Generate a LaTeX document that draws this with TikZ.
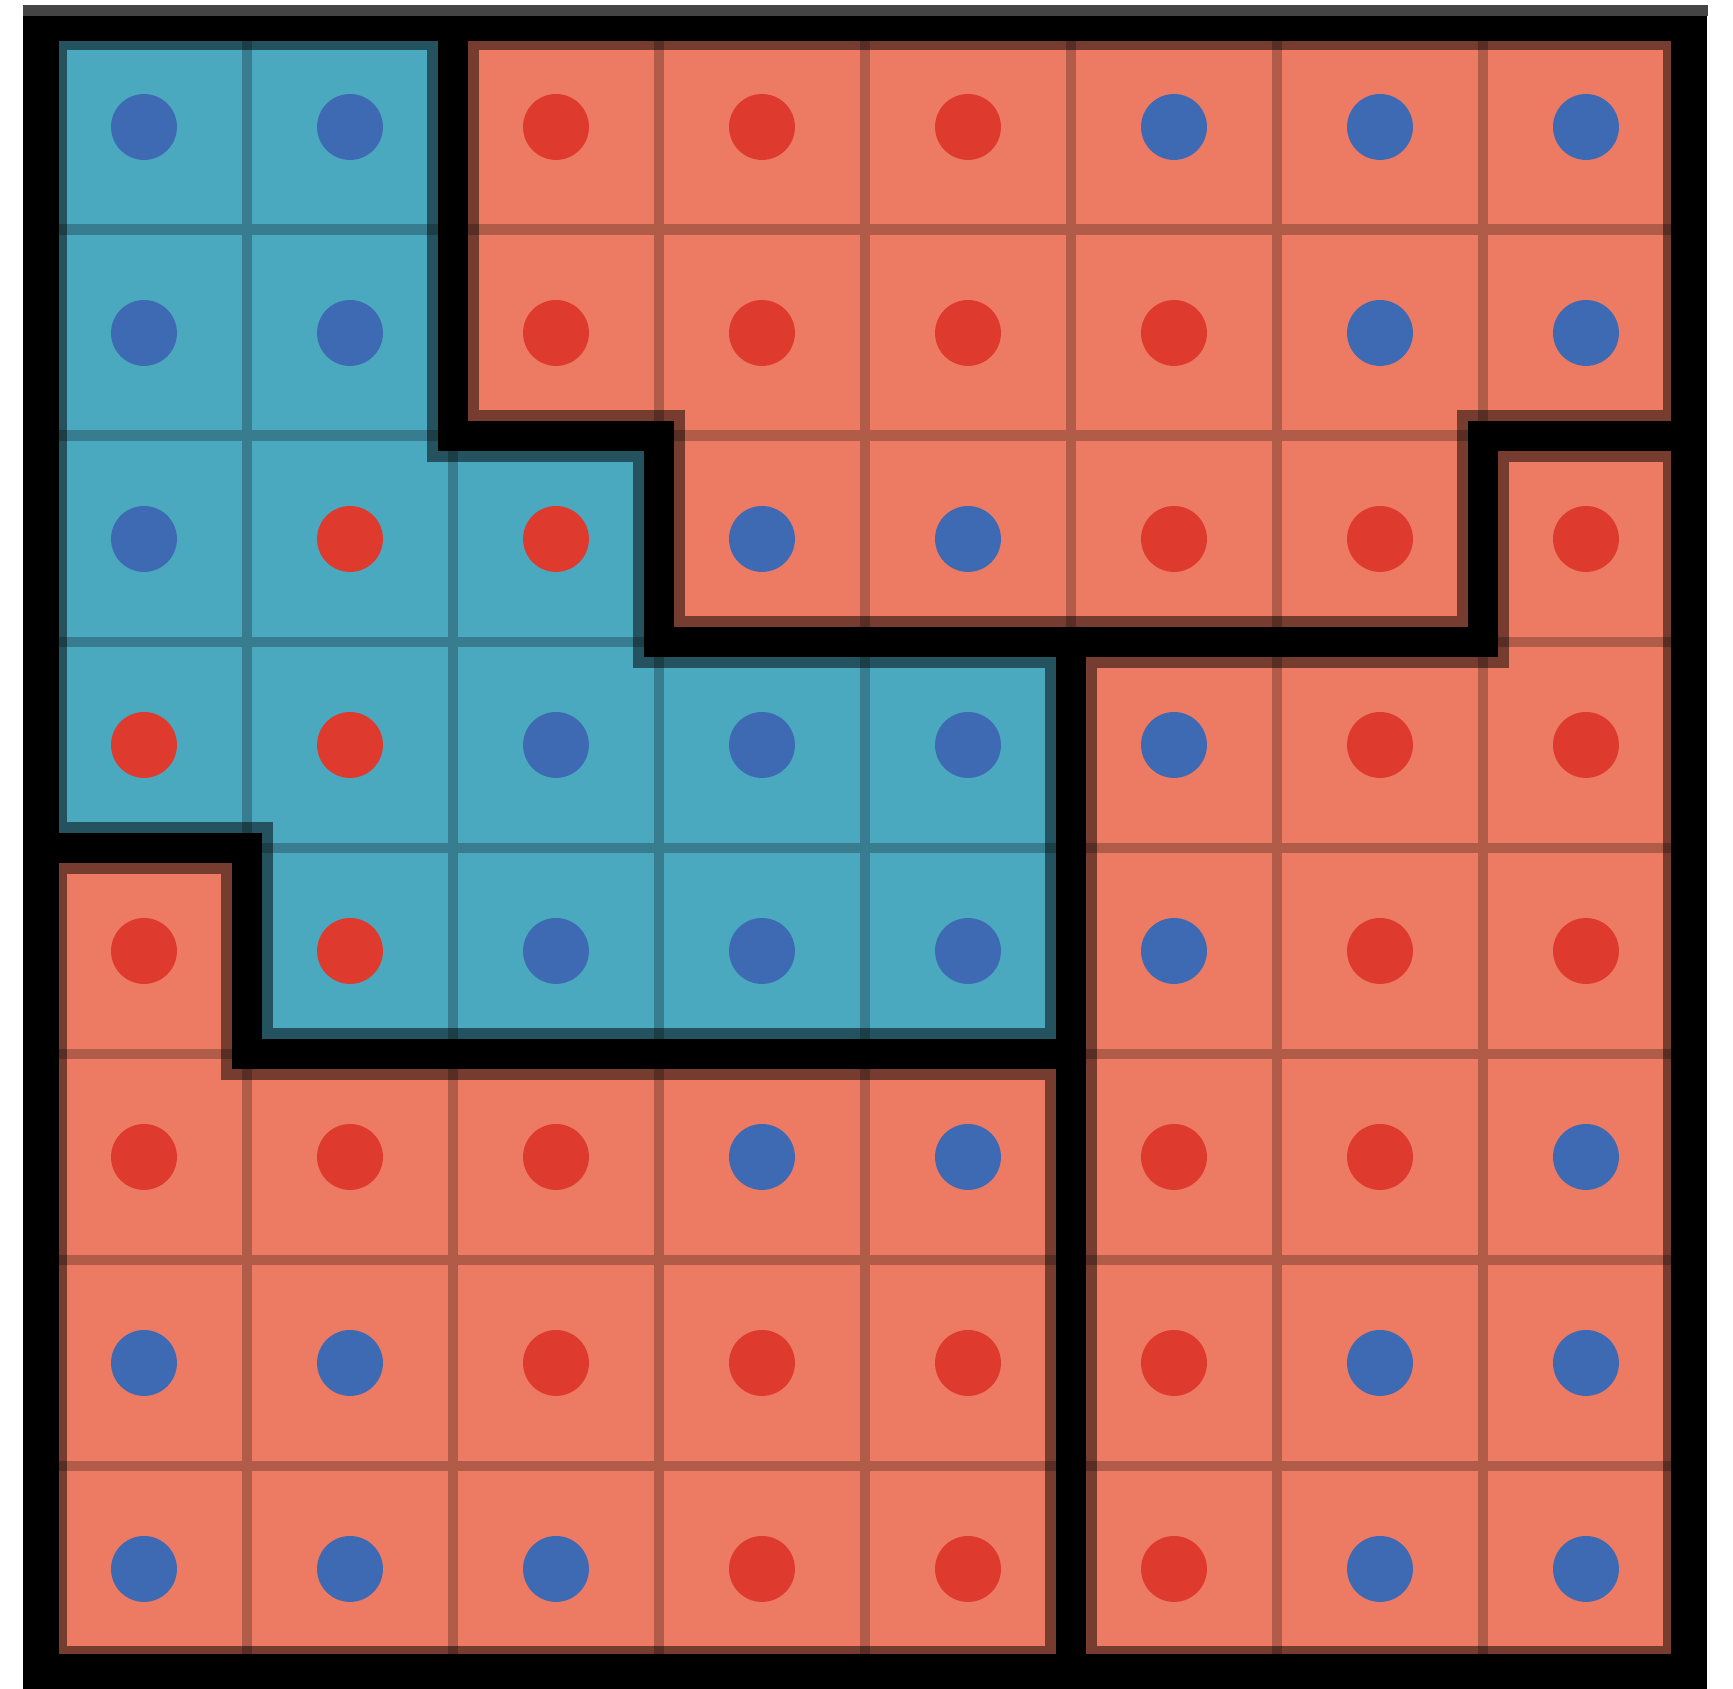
\documentclass[tikz,border=0pt]{standalone}
\definecolor{distteal}{HTML}{4AA8BF}
\definecolor{distsalmon}{HTML}{ED7A62}
\definecolor{dotR}{HTML}{DE3A2E}
\definecolor{dotB}{HTML}{3E6AB3}
\definecolor{topedge}{HTML}{444444}
\begin{document}
\begin{tikzpicture}[x=1cm,y=1cm,
    cellline/.style={black, opacity=0.25, line width=0.053cm},
    edgeshade/.style={black, opacity=0.5, line width=0.25cm},
    border/.style={black, line width=0.145cm}]
  \useasboundingbox (-0.199,-0.0825) rectangle (8.2136,8.1165);

  % districts
  \fill[distsalmon] (0,0) rectangle (8,8);
  \fill[distteal] (0,8) -- (2,8) -- (2,6) -- (3,6) -- (3,5) -- (5,5) -- (5,3)
    -- (1,3) -- (1,4) -- (0,4) -- cycle;
  \draw[cellline] (0,0) grid (8,8);

  % voters, row by row from the top
  \foreach \row [count=\r] in {{B,B,R,R,R,B,B,B},{B,B,R,R,R,R,B,B},
      {B,R,R,B,B,R,R,R},{R,R,B,B,B,B,R,R},{R,R,B,B,B,B,R,R},
      {R,R,R,B,B,R,R,B},{B,B,R,R,R,R,B,B},{B,B,B,R,R,R,B,B}} {
    \foreach \c [count=\i] in \row {
      \fill[dot\c] (\i-0.5,8.5-\r) circle (0.16);
    }
  }

  % district borders
  \begin{scope}
    \clip (0,0) rectangle (8,8);
    \draw[edgeshade] (0,0) rectangle (8,8)
      (2,8) -- (2,6) -- (3,6) -- (3,5) -- (7,5) -- (7,6) -- (8,6)
      (5,5) -- (5,0)
      (0,4) -- (1,4) -- (1,3) -- (5,3);
    \draw[border] (2,8) -- (2,6) -- (3,6) -- (3,5) -- (7,5) -- (7,6) -- (8,6);
    \draw[border] (5,5) -- (5,0);
    \draw[border] (0,4) -- (1,4) -- (1,3) -- (5,3);
  \end{scope}
  \draw[black, line width=0.17cm] (0,0) rectangle (8,8);
  \fill[topedge] (-0.087,8.039) rectangle (8.092,8.092);
\end{tikzpicture}
\end{document}
